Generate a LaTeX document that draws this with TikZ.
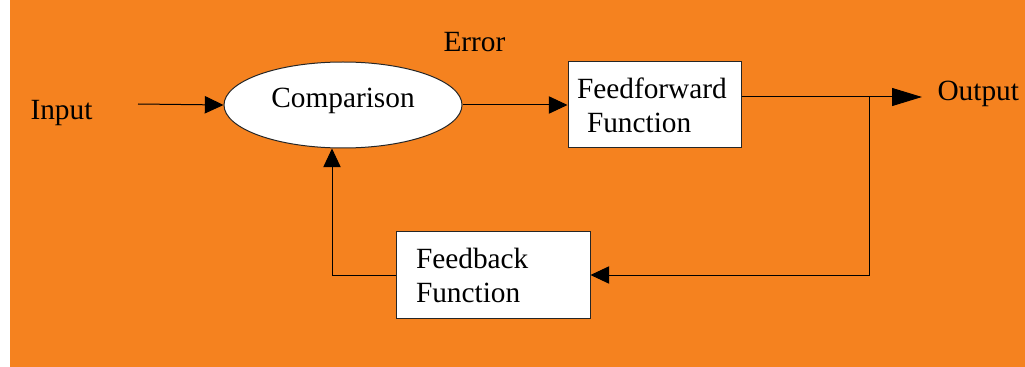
\documentclass[tikz,border=0pt]{standalone}
\usepackage{fontspec}
\setmainfont{Liberation Serif}
\usetikzlibrary{arrows.meta,shapes.geometric,calc}
\definecolor{bgorange}{HTML}{F5821F}
\begin{document}
\begin{tikzpicture}[x=0.75pt,y=-0.75pt,
  font=\fontsize{22}{25.5}\selectfont,
  line width=0.75pt,
  lbl/.style={inner sep=0pt, anchor=base west},
  boxnode/.style={draw=black!85, fill=white, minimum height=64.5pt, align=left, inner ysep=0pt},
  conn/.style={draw=black, line width=0.75pt},
  tip/.style={-{Triangle[length=14pt,width=13pt]}},
  bigtip/.style={-{Triangle[length=22.5pt,width=13.5pt]}}
]
\useasboundingbox (0,0) rectangle (1025,367);
\fill[bgorange] (10,0) rectangle (1025,367);

\node[draw=black!85, fill=white, ellipse, minimum width=178.5pt, minimum height=64.5pt, inner sep=0pt] (cmp) at (343,105) {\raisebox{-2.25pt}[0pt][0pt]{Comparison}};
\node[boxnode, text width=116.25pt, inner xsep=6.75pt] (ff) at (654.5,105) {Feedforward\\\hspace*{7.5pt}Function};
\node[boxnode, text width=115.5pt, inner xsep=15pt] (fb) at (493,275) {Feedback\\Function};

\node[lbl] (in) at (30,120) {Input};
\node[lbl] (out) at (937,101) {Output};
\node[lbl] (err) at (443,52) {Error};

\coordinate (instart) at (138,104);
\coordinate (outtip) at (922,97);
\coordinate (tap) at (869,97);
\coordinate (uptip) at ($(cmp.south)+(-11,0)$);

\draw[conn,tip] (instart) -- (cmp.west);
\draw[conn,tip] (cmp.east) -- (ff.west);
\draw[conn,bigtip] (ff.east |- outtip) -- (outtip);
\draw[conn,tip] (tap) |- (fb.east);
\draw[conn,tip] (fb.west) -| (uptip);
\end{tikzpicture}
\end{document}
